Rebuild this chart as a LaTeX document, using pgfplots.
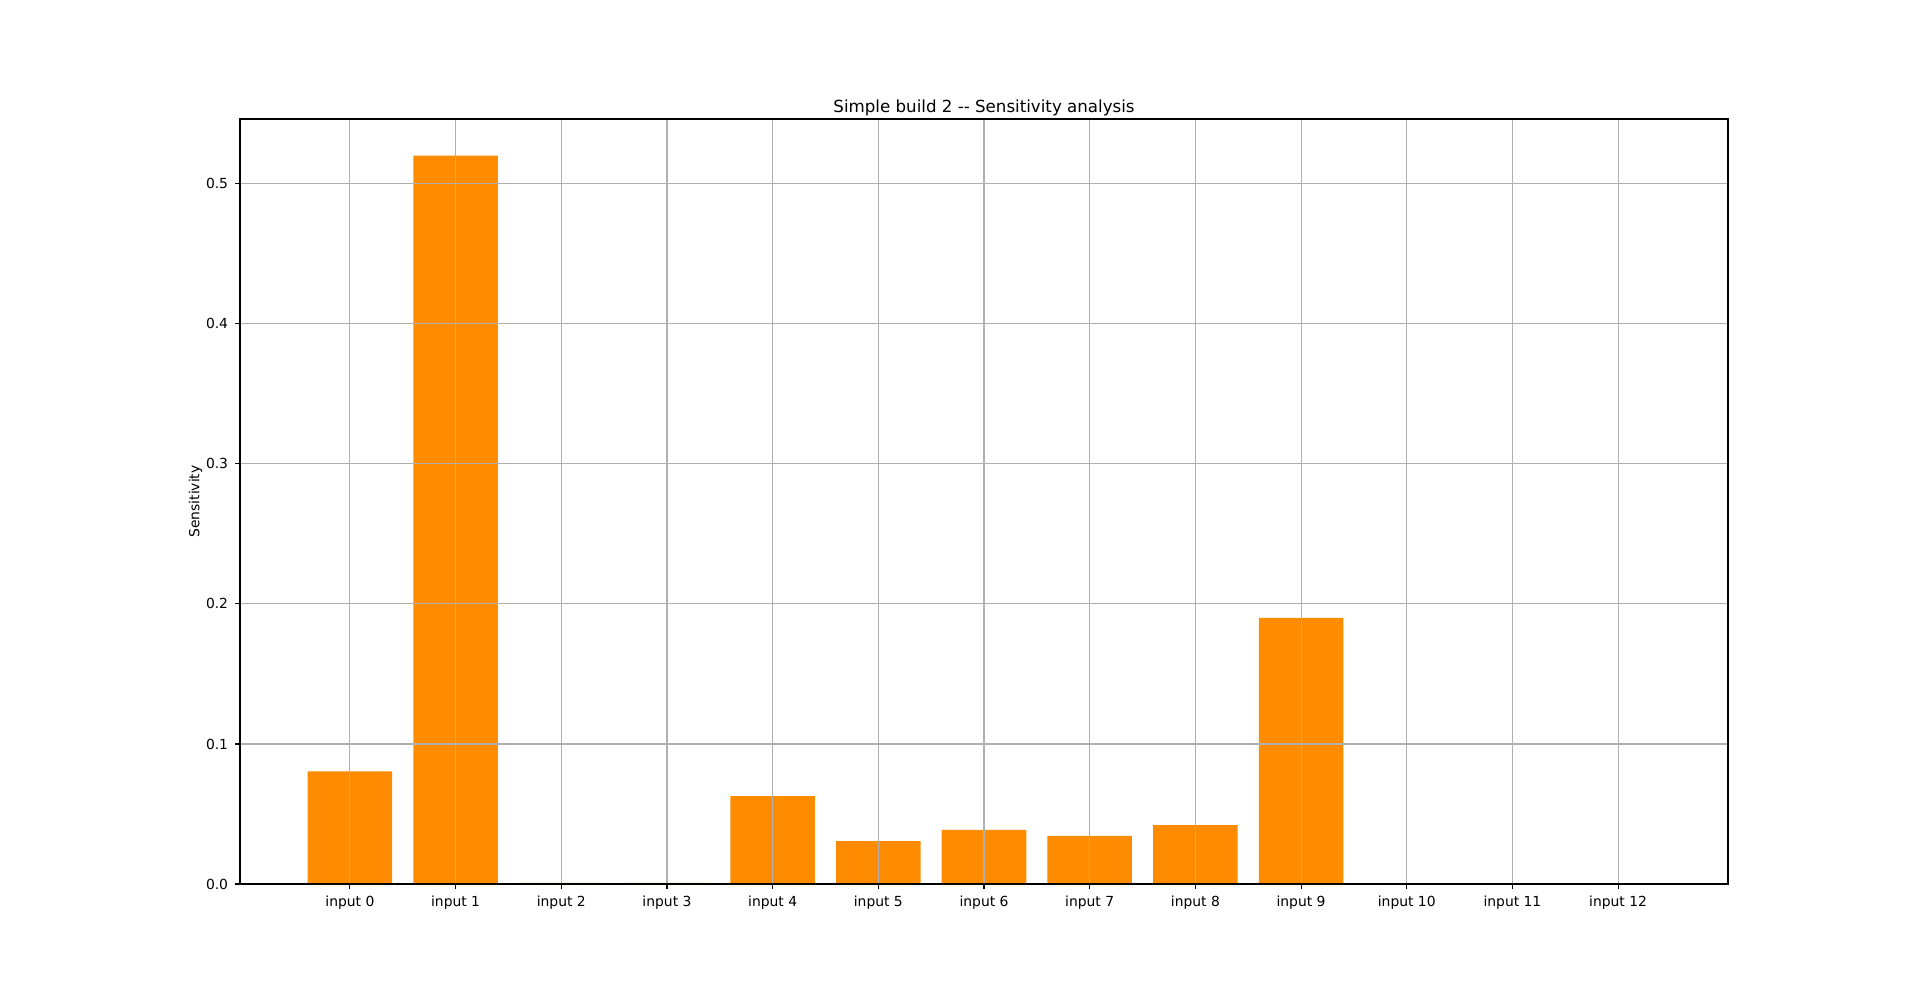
\documentclass[border=0pt]{standalone}
\usepackage{pgfplots}
\pgfplotsset{compat=1.18}
\usepackage{fontspec}
\setmainfont{DejaVu Sans}
\definecolor{barorange}{RGB}{255,140,0}
\definecolor{gridgray}{RGB}{176,176,176}
\begin{document}
\begin{tikzpicture}
\path[use as bounding box] (-120pt,-54.5pt) rectangle (840pt,442pt);
\begin{axis}[
  at={(0pt,0pt)}, anchor=south west,
  scale only axis, width=744pt, height=382.5pt,
  xmin=-1.04, xmax=13.04, ymin=0, ymax=0.5462,
  xtick={0,...,12},
  xticklabels={input 0,input 1,input 2,input 3,input 4,input 5,input 6,input 7,input 8,input 9,input 10,input 11,input 12},
  ytick={0,0.1,0.2,0.3,0.4,0.5},
  yticklabel style={/pgf/number format/.cd,fixed,fixed zerofill,precision=1},
  /pgf/number format/assume math mode=true,
  tick label style={font=\fontsize{6.94pt}{8pt}\selectfont},
  ylabel={Sensitivity},
  ylabel style={font=\fontsize{6.94pt}{8pt}\selectfont, yshift=-5pt},
  title={Simple build 2 {-}{-} Sensitivity analysis},
  title style={font=\fontsize{8.33pt}{10pt}\selectfont, yshift=-8pt},
  grid=major,
  major grid style={draw=gridgray, line width=0.55pt},
  axis line style={line width=0.55pt},
  tick style={black, line width=0.55pt},
  major tick length=2.43pt,
  tick align=outside,
  xtick pos=bottom, ytick pos=left,
  axis on top,
  ybar, bar width=0.8, bar shift=0pt,
]
\addplot[fill=barorange, draw=none] coordinates {
(0,0.0804) (1,0.520) (2,0.0008) (3,0.0008) (4,0.0628) (5,0.0307) (6,0.0386)
(7,0.0343) (8,0.0421) (9,0.190) (10,0) (11,0) (12,0)};
\end{axis}
\end{tikzpicture}
\end{document}
